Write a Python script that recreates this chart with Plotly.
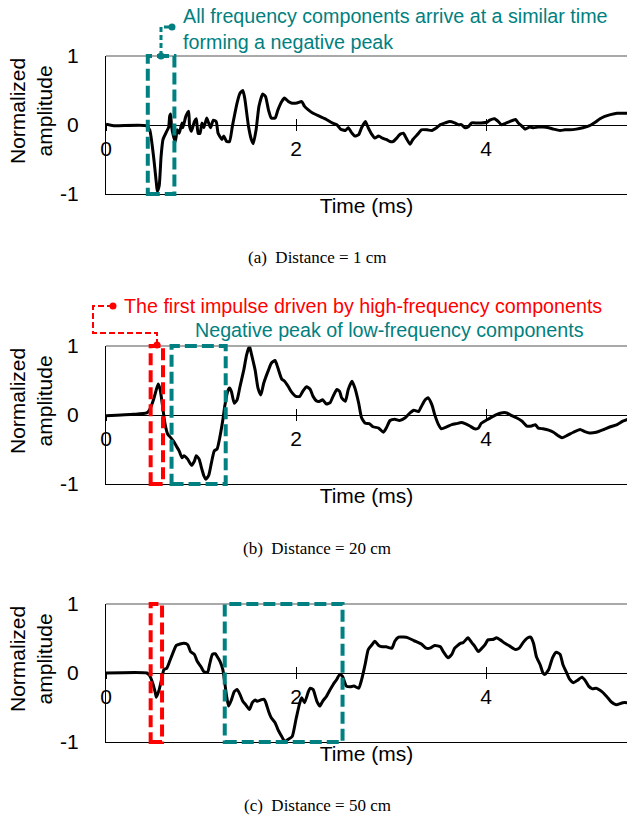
import plotly.graph_objects as go

W, H = 627, 819

# ---------------- data (time in ms, normalized amplitude) ----------------
time_a = [0, 0.08, 0.42, 0.46, 0.50, 0.53, 0.54, 0.56, 0.58, 0.60, 0.64, 0.66, 0.67, 0.68, 0.69, 0.71,
          0.73, 0.75, 0.77, 0.80, 0.81, 0.84, 0.87, 0.88, 0.90, 0.93, 0.95, 0.97, 0.99, 1.01, 1.03, 1.06,
          1.08, 1.10, 1.13, 1.16, 1.18, 1.22, 1.24, 1.27, 1.30, 1.33, 1.38, 1.41, 1.44, 1.46, 1.50, 1.53,
          1.55, 1.58, 1.61, 1.65, 1.68, 1.71, 1.74, 1.78, 1.81, 1.85, 1.88, 1.92, 1.95, 2.01, 2.06, 2.09,
          2.13, 2.18, 2.25, 2.32, 2.38, 2.43, 2.47, 2.52, 2.55, 2.59, 2.62, 2.66, 2.69, 2.73, 2.76, 2.80,
          2.83, 2.87, 2.91, 2.95, 2.99, 3.02, 3.06, 3.09, 3.13, 3.16, 3.20, 3.23, 3.29, 3.32, 3.38, 3.43,
          3.48, 3.52, 3.57, 3.62, 3.67, 3.71, 3.74, 3.78, 3.81, 3.85, 3.90, 3.95, 4.01, 4.04, 4.09, 4.13,
          4.16, 4.20, 4.25, 4.31, 4.34, 4.38, 4.41, 4.46, 4.50, 4.55, 4.60, 4.66, 4.71, 4.78, 4.83, 4.88,
          4.95, 5.02, 5.09, 5.15, 5.20, 5.25, 5.31, 5.38, 5.44, 5.50]
amp_a = [0.01, -0.01, -0.01, -0.07, -0.45, -0.84, -0.96, -0.88, -0.45, -0.21, -0.09, -0.03, 0.125, 0.16,
         -0.02, -0.16, -0.24, -0.07, -0.12, 0.03, -0.04, 0.125, 0.20, -0.02, -0.09, 0.05, 0.09, -0.12,
         -0.12, 0.03, -0.04, 0.10, 0.03, -0.04, 0.07, 0.05, -0.12, -0.21, -0.16, -0.24, -0.24, -0.02,
         0.32, 0.46, 0.50, 0.39, -0.02, -0.21, -0.27, -0.07, 0.27, 0.45, 0.41, 0.22, 0.10, 0.10, 0.22,
         0.34, 0.39, 0.34, 0.32, 0.32, 0.34, 0.27, 0.22, 0.17, 0.125, 0.08, 0.03, 0.005, -0.06, -0.08,
         -0.04, -0.12, -0.16, -0.14, -0.04, 0.05, -0.04, -0.14, -0.19, -0.16, -0.19, -0.21, -0.24, -0.24,
         -0.19, -0.14, -0.12, -0.19, -0.28, -0.21, -0.12, -0.07, -0.07, -0.08, -0.04, 0.005, 0.03, 0.05,
         0.03, 0.005, 0.005, -0.04, -0.03, 0.03, 0.03, 0.03, 0.04, 0.07, 0.09, 0.05, 0.005, 0.02, 0.05,
         0.08, 0.03, -0.02, -0.06, -0.03, -0.04, -0.03, -0.03, -0.04, -0.06, -0.08, -0.07, -0.07, -0.06,
         -0.04, -0.01, 0.04, 0.09, 0.125, 0.15, 0.17, 0.17, 0.17]

time_b = [0, 0.29, 0.43, 0.46, 0.50, 0.53, 0.55, 0.57, 0.60, 0.62, 0.65, 0.67, 0.71, 0.74, 0.77, 0.80,
          0.82, 0.86, 0.90, 0.93, 0.95, 0.98, 1.01, 1.03, 1.05, 1.08, 1.11, 1.14, 1.17, 1.20, 1.23, 1.25,
          1.28, 1.30, 1.32, 1.35, 1.38, 1.41, 1.45, 1.48, 1.51, 1.53, 1.57, 1.60, 1.63, 1.66, 1.71, 1.74,
          1.78, 1.81, 1.85, 1.88, 1.92, 1.95, 2.00, 2.04, 2.07, 2.11, 2.15, 2.18, 2.22, 2.25, 2.28, 2.32,
          2.36, 2.39, 2.43, 2.46, 2.48, 2.52, 2.55, 2.59, 2.62, 2.66, 2.69, 2.73, 2.77, 2.81, 2.87, 2.92,
          2.95, 2.99, 3.04, 3.09, 3.15, 3.20, 3.24, 3.29, 3.32, 3.36, 3.39, 3.43, 3.46, 3.50, 3.53, 3.59,
          3.64, 3.69, 3.74, 3.78, 3.83, 3.88, 3.92, 3.95, 4.01, 4.06, 4.11, 4.16, 4.22, 4.27, 4.32, 4.38,
          4.43, 4.48, 4.52, 4.55, 4.60, 4.66, 4.71, 4.76, 4.80, 4.85, 4.92, 4.99, 5.04, 5.09, 5.16, 5.24,
          5.31, 5.38, 5.44, 5.50]
amp_b = [-0.01, 0.01, 0.03, 0.08, 0.22, 0.37, 0.45, 0.37, 0.08, -0.12, -0.28, -0.31, -0.38, -0.45, -0.52,
         -0.62, -0.59, -0.64, -0.73, -0.67, -0.59, -0.64, -0.79, -0.88, -0.93, -0.88, -0.69, -0.52, -0.49,
         -0.31, -0.07, 0.125, 0.34, 0.39, 0.34, 0.17, 0.22, 0.41, 0.65, 0.87, 1.0, 0.89, 0.65, 0.39, 0.29,
         0.46, 0.65, 0.75, 0.79, 0.68, 0.52, 0.49, 0.41, 0.34, 0.27, 0.27, 0.34, 0.41, 0.37, 0.27, 0.20,
         0.20, 0.22, 0.16, 0.18, 0.27, 0.37, 0.34, 0.25, 0.20, 0.37, 0.49, 0.39, 0.17, -0.04, -0.12, -0.125,
         -0.17, -0.19, -0.25, -0.19, -0.08, -0.06, -0.08, -0.04, 0.03, 0.07, 0.05, 0.125, 0.22, 0.25, 0.15,
         0.005, -0.14, -0.20, -0.17, -0.14, -0.125, -0.11, -0.125, -0.16, -0.20, -0.19, -0.12, -0.07,
         -0.03, 0.005, 0.03, 0.03, -0.01, -0.04, -0.09, -0.16, -0.16, -0.14, -0.19, -0.20, -0.22, -0.25,
         -0.30, -0.33, -0.30, -0.25, -0.21, -0.24, -0.26, -0.25, -0.21, -0.17, -0.14, -0.09, -0.06]

time_c = [0, 0.43, 0.46, 0.49, 0.52, 0.53, 0.56, 0.59, 0.61, 0.64, 0.67, 0.71, 0.74, 0.78, 0.82, 0.86,
          0.89, 0.93, 0.96, 1.00, 1.03, 1.07, 1.09, 1.12, 1.15, 1.17, 1.20, 1.23, 1.25, 1.27, 1.29, 1.32,
          1.35, 1.38, 1.41, 1.44, 1.47, 1.51, 1.54, 1.57, 1.59, 1.63, 1.66, 1.68, 1.71, 1.74, 1.78, 1.81,
          1.85, 1.88, 1.92, 1.96, 2.00, 2.04, 2.06, 2.09, 2.13, 2.15, 2.18, 2.22, 2.25, 2.28, 2.32, 2.36,
          2.39, 2.43, 2.46, 2.49, 2.53, 2.57, 2.61, 2.66, 2.69, 2.73, 2.76, 2.80, 2.83, 2.87, 2.91, 2.95,
          3.01, 3.04, 3.08, 3.13, 3.18, 3.24, 3.29, 3.32, 3.37, 3.41, 3.46, 3.52, 3.55, 3.60, 3.64, 3.67,
          3.73, 3.76, 3.81, 3.85, 3.88, 3.92, 3.95, 3.99, 4.02, 4.08, 4.11, 4.15, 4.20, 4.25, 4.31, 4.35,
          4.39, 4.44, 4.47, 4.50, 4.53, 4.57, 4.60, 4.62, 4.66, 4.70, 4.74, 4.78, 4.81, 4.85, 4.88, 4.92,
          4.96, 5.01, 5.04, 5.08, 5.12, 5.16, 5.22, 5.27, 5.32, 5.37, 5.44, 5.50]
amp_c = [0, 0, -0.04, -0.14, -0.29, -0.35, -0.24, -0.06, 0.05, 0.07, 0.17, 0.31, 0.40, 0.42, 0.43, 0.41,
         0.31, 0.27, 0.17, 0.09, 0.02, 0.01, 0.12, 0.27, 0.28, 0.24, 0.17, 0.05, -0.14, -0.34, -0.48, -0.39,
         -0.27, -0.24, -0.31, -0.41, -0.46, -0.53, -0.43, -0.39, -0.41, -0.39, -0.38, -0.42, -0.55, -0.65,
         -0.72, -0.82, -0.92, -0.99, -0.96, -0.92, -0.67, -0.43, -0.36, -0.43, -0.27, -0.22, -0.24, -0.41,
         -0.48, -0.41, -0.34, -0.24, -0.17, -0.09, -0.02, -0.05, -0.19, -0.20, -0.19, -0.22, -0.10, 0.14,
         0.34, 0.41, 0.46, 0.40, 0.38, 0.38, 0.36, 0.46, 0.52, 0.52, 0.51, 0.47, 0.44, 0.42, 0.36, 0.36,
         0.40, 0.38, 0.31, 0.22, 0.27, 0.36, 0.43, 0.44, 0.51, 0.44, 0.39, 0.31, 0.35, 0.41, 0.48, 0.49,
         0.51, 0.48, 0.43, 0.39, 0.34, 0.36, 0.44, 0.51, 0.52, 0.43, 0.24, 0.12, 0, -0.02, 0.05, 0.22,
         0.30, 0.27, 0.12, 0, -0.09, -0.14, -0.11, -0.06, -0.10, -0.19, -0.23, -0.22, -0.27, -0.34, -0.42,
         -0.46, -0.43, -0.43]

x_ticks = [0, 2, 4]
x_ticktext = ["0", "2", "4"]
y_ticks = [-1, 0, 1]
y_ticktext = ["-1", "0", "1"]
captions = ["(a)  Distance = 1 cm", "(b)  Distance = 20 cm", "(c)  Distance = 50 cm"]

# ---------------- layout helpers ----------------
TEAL = "#008080"
RED = "#ff0000"
FONT = "Liberation Sans, Arial, sans-serif"
SERIF = "Liberation Serif, Times New Roman, serif"
AX_FS = 21

def py(p):  # pixel row -> paper y
    return 1 - p / H

def pxx(p):  # pixel col -> paper x
    return p / W

def ax_id(letter, n):
    return letter if n == 1 else f"{letter}{n}"

X0_PX = 106
PX_PER_MS = 95
XMAX = (W - X0_PX) / PX_PER_MS

panels = [
    dict(t=time_a, a=amp_a, top=56, bot=194, cap_y=257),
    dict(t=time_b, a=amp_b, top=346, bot=484, cap_y=548),
    dict(t=time_c, a=amp_c, top=604, bot=742, cap_y=805),
]

fig = go.Figure()
layout = dict(width=W, height=H, margin=dict(l=0, r=0, t=0, b=0, autoexpand=False),
              paper_bgcolor="white", plot_bgcolor="white", showlegend=False,
              font=dict(family=FONT, color="black", size=AX_FS))
shapes = []
annotations = []
xids, yids = [], []

for i, p in enumerate(panels):
    nx = 3 * i + 1
    ny = i + 1
    xid, yid = ax_id("x", nx), ax_id("y", ny)
    xids.append(xid)
    yids.append(yid)
    xkey = "xaxis" if nx == 1 else f"xaxis{nx}"
    ykey = "yaxis" if ny == 1 else f"yaxis{ny}"
    d0, d1 = py(p["bot"]), py(p["top"])
    zero_pos = (d0 + d1) / 2
    dom_x = [pxx(X0_PX), 1]

    fig.add_trace(go.Scatter(x=p["t"], y=p["a"], mode="lines", xaxis=xid, yaxis=yid,
                             line=dict(color="black", width=3, shape="spline", smoothing=0.5),
                             hoverinfo="skip"))
    # invisible helper traces so the zero-line tick axes get drawn
    for k in (1, 2):
        fig.add_trace(go.Scatter(x=x_ticks, y=[0] * len(x_ticks), mode="markers",
                                 marker=dict(opacity=0, size=1), xaxis=f"x{nx + k}", yaxis=yid,
                                 hoverinfo="skip"))

    layout[xkey] = dict(domain=dom_x, range=[0, XMAX], anchor=yid, automargin=False,
                        showline=True, linecolor="black", linewidth=1, showgrid=False,
                        zeroline=False, showticklabels=False, ticks="",
                        title=dict(text="Time (ms)", standoff=4, font=dict(size=AX_FS)))
    # tick labels on the zero line
    layout[f"xaxis{nx + 1}"] = dict(overlaying=xid, domain=dom_x, range=[0, XMAX],
                                    anchor="free", position=zero_pos, automargin=False,
                                    side="bottom", showline=False, showgrid=False, zeroline=False,
                                    tickmode="array", tickvals=x_ticks, ticktext=x_ticktext,
                                    ticks="outside", ticklen=5, tickwidth=1, tickcolor="black",
                                    showticklabels=True, tickfont=dict(size=AX_FS))
    layout[f"xaxis{nx + 2}"] = dict(overlaying=xid, domain=dom_x, range=[0, XMAX],
                                    anchor="free", position=zero_pos, automargin=False,
                                    side="bottom", showline=False, showgrid=False, zeroline=False,
                                    tickmode="array", tickvals=x_ticks, showticklabels=False,
                                    ticks="inside", ticklen=6, tickwidth=1, tickcolor="black")
    layout[ykey] = dict(domain=[d0, d1], range=[-1, 1], anchor=xid, automargin=False,
                        showline=True, linecolor="black", linewidth=1, showgrid=False,
                        zeroline=True, zerolinecolor="black", zerolinewidth=1,
                        tickmode="array", tickvals=y_ticks, ticktext=y_ticktext, ticks="",
                        ticklabelstandoff=22, tickfont=dict(size=AX_FS))

    # gray top border
    shapes.append(dict(type="line", xref=f"{xid} domain", yref=f"{yid} domain",
                       x0=0, x1=1, y0=1, y1=1, line=dict(color="#8c8c8c", width=1.5)))

    # y title
    annotations.append(dict(text="Normalized<br>amplitude", xref="paper", yref="paper",
                            x=pxx(31), y=py((p["top"] + p["bot"]) / 2 - 14), textangle=-90,
                            showarrow=False, xanchor="center", yanchor="middle",
                            font=dict(size=AX_FS, family=FONT)))
    # caption
    annotations.append(dict(text=captions[i], xref="paper", yref="paper", x=pxx(317),
                            y=py(p["cap_y"]), showarrow=False, xanchor="center",
                            yanchor="middle", font=dict(size=17, family=SERIF)))

def box(k, x0, x1, color):
    return dict(type="rect", xref=xids[k], yref=f"{yids[k]} domain", x0=x0, x1=x1, y0=0, y1=1,
                line=dict(color=color, width=4, dash="12px,5px"), fillcolor="rgba(0,0,0,0)")

# highlight boxes (ms)
shapes.append(box(0, 0.44, 0.72, TEAL))
shapes.append(box(1, 0.47, 0.60, RED))
shapes.append(box(1, 0.69, 1.26, TEAL))
shapes.append(box(2, 0.47, 0.59, RED))
shapes.append(box(2, 1.25, 2.49, TEAL))

def dot(xp, yp, color):
    return dict(type="circle", xref="paper", yref="paper", xsizemode="pixel", ysizemode="pixel",
                xanchor=pxx(xp), yanchor=py(yp), x0=-3.5, x1=3.5, y0=-3.5, y1=3.5,
                fillcolor=color, line=dict(width=0))

def path(points, color, width, dash):
    d = "M " + " L ".join(f"{pxx(a):.5f},{py(b):.5f}" for a, b in points)
    return dict(type="path", xref="paper", yref="paper", path=d,
                line=dict(color=color, width=width, dash=dash))

# panel (a) connector
shapes.append(path([(161, 56), (161, 27), (172, 27)], TEAL, 3, "5px,3px"))
shapes.append(dot(172, 27, TEAL))
shapes.append(dot(161, 56, TEAL))
# panel (b) connector
shapes.append(path([(113, 306), (93, 306), (93, 333), (157, 333), (157, 345)], RED, 2, "6px,3px"))
shapes.append(dot(113, 306, RED))
shapes.append(dot(157, 345, RED))

annotations.append(dict(text="All frequency components arrive at a similar time<br>forming a negative peak",
                        xref="paper", yref="paper", x=pxx(181), y=py(29), xanchor="left",
                        yanchor="middle", align="left", showarrow=False,
                        font=dict(size=19.7, color=TEAL, family=FONT)))
annotations.append(dict(text="The first impulse driven by high-frequency components",
                        xref="paper", yref="paper", x=pxx(122), y=py(306), xanchor="left",
                        yanchor="middle", align="left", showarrow=False,
                        font=dict(size=19.7, color=RED, family=FONT)))
annotations.append(dict(text="Negative peak of low-frequency components",
                        xref="paper", yref="paper", x=pxx(193), y=py(330), xanchor="left",
                        yanchor="middle", align="left", showarrow=False,
                        font=dict(size=19.7, color=TEAL, family=FONT)))

layout["shapes"] = shapes
layout["annotations"] = annotations
fig.update_layout(**layout)
fig.write_html("out.html", config={"displayModeBar": False, "staticPlot": True},
               post_script="document.body.style.margin='0px';")
